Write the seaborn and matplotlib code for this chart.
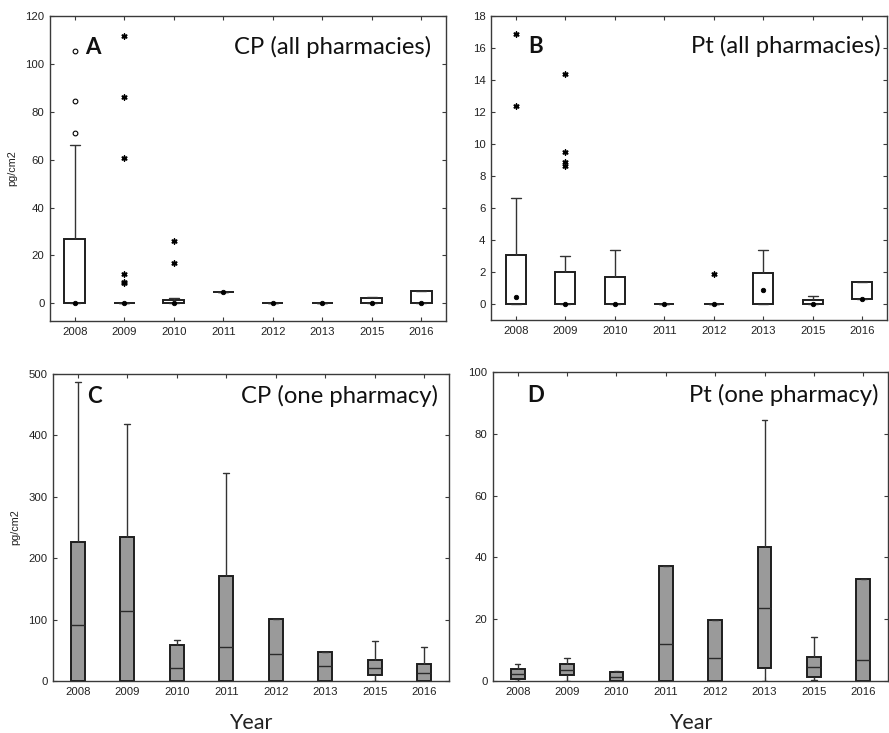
import matplotlib
matplotlib.use("Agg")
import matplotlib.pyplot as plt
import pandas as pd
import seaborn as sns

# Sampling years (no campaign in 2014)
years = ["2008", "2009", "2010", "2011", "2012", "2013", "2015", "2016"]

# A: cyclophosphamide, all pharmacies (pg/cm2) - box statistics per year
cp_all_lo = [0, 0, 0, 4.6, 0, 0, 0, 0]
cp_all_q1 = [0, 0, 0, 4.6, 0, 0, 0, 0]
cp_all_med = [0, 0, 0, 4.6, 0, 0, 0, 0]
cp_all_q3 = [27.0, 0, 1.4, 4.6, 0, 0, 2.0, 5.2]
cp_all_hi = [66.3, 0, 2.2, 4.6, 0, 0, 2.8, 5.2]
cp_all_outliers = {"2008": [105.4, 84.6, 71.2]}
cp_all_extremes = {"2009": [111.6, 86.1, 60.6, 12.1, 8.8, 8.3],
                   "2010": [26.2, 16.9]}

# B: platinum, all pharmacies (pg/cm2)
pt_all_lo = [0, 0, 0, 0, 0, 0, 0, 0.3]
pt_all_q1 = [0, 0, 0, 0, 0, 0, 0, 0.3]
pt_all_med = [0.45, 0, 0, 0, 0, 0.85, 0.02, 0.3]
pt_all_q3 = [3.05, 2.0, 1.7, 0, 0, 1.95, 0.25, 1.4]
pt_all_hi = [6.6, 3.0, 3.35, 0, 0, 3.35, 0.5, 1.4]
pt_all_extremes = {"2008": [16.85, 12.4],
                   "2009": [14.35, 9.5, 8.85, 8.65],
                   "2012": [1.9]}

# C: cyclophosphamide, one pharmacy (pg/cm2)
cp_one_lo = [0, 0, 0, 0, 0, 0, 0, 0]
cp_one_q1 = [0, 0, 0, 0, 0, 0, 9, 0]
cp_one_med = [91, 114, 21, 55, 44, 24.5, 21, 13.5]
cp_one_q3 = [227, 234, 59, 171, 101, 47, 34, 27]
cp_one_hi = [487, 418, 66, 338, 101, 47, 65, 55]

# D: platinum, one pharmacy (pg/cm2)
pt_one_lo = [0, 0, 0, 0, 0, 0, 0.2, 0]
pt_one_q1 = [0.8, 1.9, 0, 0, 0, 4.2, 1.4, 0]
pt_one_med = [2.35, 3.7, 1.25, 12, 7.5, 23.7, 4.65, 6.8]
pt_one_q3 = [4.0, 5.4, 2.95, 37.2, 19.8, 43.5, 7.8, 33]
pt_one_hi = [5.4, 7.5, 3.35, 37.2, 19.8, 84.4, 14.3, 33]


def box_frame(lo, q1, med, q3, hi):
    """Five values per year whose quartiles are exactly the box statistics."""
    rows = []
    for yr, *vals in zip(years, lo, q1, med, q3, hi):
        rows += [(yr, v) for v in vals]
    return pd.DataFrame(rows, columns=["Year", "value"])


def point_frame(groups):
    rows = [(yr, v) for yr, vals in groups.items() for v in vals]
    return pd.DataFrame(rows, columns=["Year", "value"])


sns.set_theme(style="ticks")
plt.rcParams["font.family"] = ["Liberation Sans", "DejaVu Sans"]
plt.rcParams["axes.edgecolor"] = "#3a3a3a"
plt.rcParams["axes.linewidth"] = 1.0

fig = plt.figure(figsize=(8.89, 7.33), dpi=100)
W, H = 889, 733


def add_axes(x0, y0, x1, y1):
    return fig.add_axes([x0 / W, 1 - y1 / H, (x1 - x0) / W, (y1 - y0) / H])


axA = add_axes(50, 16, 446, 321)
axB = add_axes(491, 16, 887, 320)
axC = add_axes(53, 374, 449, 681)
axD = add_axes(493, 372, 888, 681)

LINE = "#1e1e1e"
ASTERISK = (6, 2, 0)


def draw_boxes(ax, df, fill, width, capfrac, median_line):
    sns.boxplot(
        data=df, x="Year", y="value", order=years, ax=ax,
        whis=(0, 100), width=width, color=fill, saturation=1,
        linecolor=LINE, linewidth=1.4,
        capwidths=capfrac * width,
        whiskerprops=dict(color="#333333", linewidth=1.0),
        capprops=dict(color="#333333", linewidth=1.0),
        medianprops=dict(color="#2a2a2a", linewidth=1.0, visible=median_line),
    )


def draw_points(ax, df, marker, size, face="black", edge="black", lw=0.6):
    sns.stripplot(
        data=df, x="Year", y="value", order=years, ax=ax, jitter=False,
        marker=marker, size=size, color=face, edgecolor=edge, linewidth=lw,
        zorder=6,
    )


# Panel A
draw_boxes(axA, box_frame(cp_all_lo, cp_all_q1, cp_all_med, cp_all_q3, cp_all_hi),
           "white", 0.42, 0.5, False)
draw_points(axA, pd.DataFrame({"Year": years, "value": cp_all_med}), "o", 3.2)
draw_points(axA, point_frame(cp_all_outliers), "o", 3.4, face="white", edge="black", lw=0.8)
draw_points(axA, point_frame(cp_all_extremes), ASTERISK, 3.6, lw=1.1)

# Panel B
draw_boxes(axB, box_frame(pt_all_lo, pt_all_q1, pt_all_med, pt_all_q3, pt_all_hi),
           "white", 0.4, 0.5, False)
draw_points(axB, pd.DataFrame({"Year": years, "value": pt_all_med}), "o", 3.2)
draw_points(axB, point_frame(pt_all_extremes), ASTERISK, 3.6, lw=1.1)

# Panel C
draw_boxes(axC, box_frame(cp_one_lo, cp_one_q1, cp_one_med, cp_one_q3, cp_one_hi),
           "#9a9a9a", 0.28, 0.4, True)

# Panel D
draw_boxes(axD, box_frame(pt_one_lo, pt_one_q1, pt_one_med, pt_one_q3, pt_one_hi),
           "#9a9a9a", 0.28, 0.4, True)

settings = [
    (axA, (-7.4, 120), range(0, 121, 20), "A", "CP (all pharmacies)", 0.088, 0.962, 0.876, True, False),
    (axB, (-1.0, 18), range(0, 19, 2), "B", "Pt (all pharmacies)", 0.093, 0.983, 0.878, False, False),
    (axC, (0, 500), range(0, 501, 100), "C", "CP (one pharmacy)", 0.086, 0.972, 0.905, True, True),
    (axD, (0, 100), range(0, 101, 20), "D", "Pt (one pharmacy)", 0.086, 0.975, 0.903, False, True),
]

for ax, ylim, yt, letter, title, lx, tx, ty, ylab, xlab in settings:
    ax.set_xlim(-0.5, len(years) - 0.5)
    ax.set_ylim(*ylim)
    ax.set_yticks(list(yt))
    ax.set_xticks(range(len(years)))
    ax.set_xticklabels(years)
    for side in ["top", "right", "left", "bottom"]:
        ax.spines[side].set_visible(True)
    ax.tick_params(direction="in", top=True, right=True, length=3, width=0.8,
                   labelsize=8.2, labelcolor="#222222", color="#3a3a3a", pad=4)
    ax.set_ylabel("pg/cm2" if ylab else "", fontsize=7.8, color="#222222", labelpad=6)
    ax.set_xlabel("Year" if xlab else "", fontsize=15.5, family="Lato",
                  color="#222222", labelpad=12)
    ax.text(lx, ty, letter, transform=ax.transAxes, ha="left", va="baseline",
            fontsize=16, fontweight="bold", family="Lato", color="#111111")
    ax.text(tx, ty, title, transform=ax.transAxes, ha="right", va="baseline",
            fontsize=17.2, family="Lato", color="#111111")

fig.savefig("out.png", dpi=100)
